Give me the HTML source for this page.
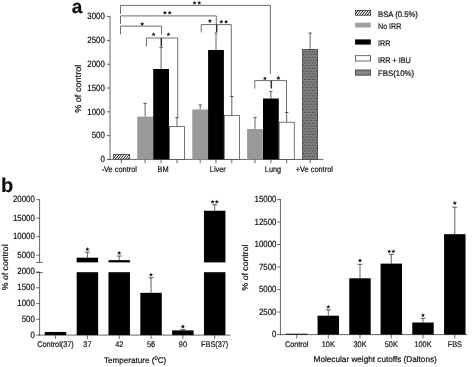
<!DOCTYPE html>
<html><head><meta charset="utf-8"><title>Figure</title>
<style>
html,body{margin:0;padding:0;background:#fff;}
body{width:472px;height:367px;overflow:hidden;}
svg{display:block;font-family:"Liberation Sans",sans-serif;fill:#111;}
text{stroke:#111;stroke-width:0.2px;text-rendering:geometricPrecision;}
</style></head><body>
<svg width="472" height="367" viewBox="0 0 472 367">
<defs>
<pattern id="hatch" width="4" height="2.0" patternUnits="userSpaceOnUse" patternTransform="rotate(-50)">
<rect width="4" height="2.0" fill="#fff"/><rect width="4" height="0.95" fill="#1a1a1a"/>
</pattern>
<pattern id="dots" x="302.9" y="50.6" width="2.66" height="5.5" patternUnits="userSpaceOnUse">
<rect x="0.9" y="0.6" width="1.2" height="1.3" fill="#3c3c3c"/><rect x="-0.43" y="3.35" width="1.2" height="1.3" fill="#3c3c3c"/><rect x="2.23" y="3.35" width="1.2" height="1.3" fill="#3c3c3c"/>
</pattern>
<pattern id="dots2" x="355.5" y="69.6" width="2.66" height="6" patternUnits="userSpaceOnUse">
<rect x="0.7" y="2.4" width="1.3" height="1.2" fill="#b0b0b0"/>
</pattern>
<filter id="soft" x="-2%" y="-2%" width="104%" height="104%"><feGaussianBlur stdDeviation="0.35"/></filter>
</defs>
<rect width="472" height="367" fill="#fff"/>
<g filter="url(#soft)">
<text transform="translate(71.8,12.90) scale(1.0000,1)" font-size="19.00" text-anchor="start" font-weight="bold" >a</text>
<line x1="110.0" y1="16.0" x2="110.0" y2="159.95" stroke="#2e2e2e" stroke-width="0.72"/>
<line x1="109.5" y1="159.45" x2="323.4" y2="159.45" stroke="#2e2e2e" stroke-width="0.72"/>
<line x1="106.8" y1="159.45" x2="110.0" y2="159.45" stroke="#2e2e2e" stroke-width="0.72"/>
<text transform="translate(104.8,162.10) scale(0.8621,1)" font-size="9.11" text-anchor="end" font-weight="normal" >0</text>
<line x1="106.8" y1="135.64999999999998" x2="110.0" y2="135.64999999999998" stroke="#2e2e2e" stroke-width="0.72"/>
<text transform="translate(104.8,138.30) scale(0.8621,1)" font-size="9.11" text-anchor="end" font-weight="normal" >500</text>
<line x1="106.8" y1="111.85" x2="110.0" y2="111.85" stroke="#2e2e2e" stroke-width="0.72"/>
<text transform="translate(104.8,114.50) scale(0.8621,1)" font-size="9.11" text-anchor="end" font-weight="normal" >1000</text>
<line x1="106.8" y1="88.04999999999998" x2="110.0" y2="88.04999999999998" stroke="#2e2e2e" stroke-width="0.72"/>
<text transform="translate(104.8,90.70) scale(0.8621,1)" font-size="9.11" text-anchor="end" font-weight="normal" >1500</text>
<line x1="106.8" y1="64.24999999999999" x2="110.0" y2="64.24999999999999" stroke="#2e2e2e" stroke-width="0.72"/>
<text transform="translate(104.8,66.90) scale(0.8621,1)" font-size="9.11" text-anchor="end" font-weight="normal" >2000</text>
<line x1="106.8" y1="40.449999999999974" x2="110.0" y2="40.449999999999974" stroke="#2e2e2e" stroke-width="0.72"/>
<text transform="translate(104.8,43.10) scale(0.8621,1)" font-size="9.11" text-anchor="end" font-weight="normal" >2500</text>
<line x1="106.8" y1="16.649999999999977" x2="110.0" y2="16.649999999999977" stroke="#2e2e2e" stroke-width="0.72"/>
<text transform="translate(104.8,19.30) scale(0.8621,1)" font-size="9.11" text-anchor="end" font-weight="normal" >3000</text>
<text transform="translate(81.0,88.8) rotate(-90) scale(1.06,1)" font-size="8.6" text-anchor="middle">% of control</text>
<clipPath id="hc1"><rect x="113.40" y="154.30" width="16.30" height="5.15"/></clipPath>
<rect x="113.40" y="154.30" width="16.30" height="5.15" fill="#fff"/>
<g clip-path="url(#hc1)" stroke="#1a1a1a" stroke-width="1.0"><line x1="104.27" y1="160.45" x2="109.85" y2="153.30"/><line x1="106.81" y1="160.45" x2="112.39" y2="153.30"/><line x1="109.35" y1="160.45" x2="114.93" y2="153.30"/><line x1="111.89" y1="160.45" x2="117.47" y2="153.30"/><line x1="114.43" y1="160.45" x2="120.01" y2="153.30"/><line x1="116.97" y1="160.45" x2="122.55" y2="153.30"/><line x1="119.51" y1="160.45" x2="125.09" y2="153.30"/><line x1="122.05" y1="160.45" x2="127.63" y2="153.30"/><line x1="124.59" y1="160.45" x2="130.17" y2="153.30"/><line x1="127.13" y1="160.45" x2="132.71" y2="153.30"/><line x1="129.67" y1="160.45" x2="135.25" y2="153.30"/></g>
<rect x="113.73" y="154.62" width="15.65" height="4.50" fill="none" stroke="#222" stroke-width="0.65"/>
<line x1="121.3" y1="159.45" x2="121.3" y2="163.25" stroke="#2e2e2e" stroke-width="0.72"/>
<line x1="145.1" y1="103.4" x2="145.1" y2="116.60999999999999" stroke="#2e2e2e" stroke-width="0.75"/>
<line x1="143.4" y1="103.4" x2="146.79999999999998" y2="103.4" stroke="#2e2e2e" stroke-width="0.75"/>
<rect x="137.20" y="116.61" width="15.80" height="42.84" fill="#999999"/>
<line x1="145.1" y1="159.45" x2="145.1" y2="163.25" stroke="#2e2e2e" stroke-width="0.72"/>
<line x1="161.1" y1="47.3" x2="161.1" y2="69.00999999999998" stroke="#2e2e2e" stroke-width="0.75"/>
<line x1="159.4" y1="47.3" x2="162.79999999999998" y2="47.3" stroke="#2e2e2e" stroke-width="0.75"/>
<rect x="153.20" y="69.01" width="15.80" height="90.44" fill="#000"/>
<line x1="161.1" y1="159.45" x2="161.1" y2="163.25" stroke="#2e2e2e" stroke-width="0.72"/>
<line x1="177.0" y1="117.6" x2="177.0" y2="126.13" stroke="#2e2e2e" stroke-width="0.75"/>
<line x1="175.3" y1="117.6" x2="178.7" y2="117.6" stroke="#2e2e2e" stroke-width="0.75"/>
<rect x="169.45" y="126.48" width="15.10" height="32.97" fill="#fff" stroke="#3a3a3a" stroke-width="0.7"/>
<line x1="177.0" y1="159.45" x2="177.0" y2="163.25" stroke="#2e2e2e" stroke-width="0.72"/>
<line x1="200.2" y1="104.9" x2="200.2" y2="109.46999999999998" stroke="#2e2e2e" stroke-width="0.75"/>
<line x1="198.5" y1="104.9" x2="201.89999999999998" y2="104.9" stroke="#2e2e2e" stroke-width="0.75"/>
<rect x="192.30" y="109.47" width="15.80" height="49.98" fill="#999999"/>
<line x1="200.2" y1="159.45" x2="200.2" y2="163.25" stroke="#2e2e2e" stroke-width="0.72"/>
<line x1="216.0" y1="33.0" x2="216.0" y2="49.969999999999985" stroke="#2e2e2e" stroke-width="0.75"/>
<line x1="214.3" y1="33.0" x2="217.7" y2="33.0" stroke="#2e2e2e" stroke-width="0.75"/>
<rect x="208.10" y="49.97" width="15.80" height="109.48" fill="#000"/>
<line x1="216.0" y1="159.45" x2="216.0" y2="163.25" stroke="#2e2e2e" stroke-width="0.72"/>
<line x1="231.8" y1="96.5" x2="231.8" y2="115.18199999999999" stroke="#2e2e2e" stroke-width="0.75"/>
<line x1="230.10000000000002" y1="96.5" x2="233.5" y2="96.5" stroke="#2e2e2e" stroke-width="0.75"/>
<rect x="224.25" y="115.53" width="15.10" height="43.92" fill="#fff" stroke="#3a3a3a" stroke-width="0.7"/>
<line x1="231.8" y1="159.45" x2="231.8" y2="163.25" stroke="#2e2e2e" stroke-width="0.72"/>
<line x1="255.0" y1="117.4" x2="255.0" y2="128.986" stroke="#2e2e2e" stroke-width="0.75"/>
<line x1="253.3" y1="117.4" x2="256.7" y2="117.4" stroke="#2e2e2e" stroke-width="0.75"/>
<rect x="247.10" y="128.99" width="15.80" height="30.46" fill="#999999"/>
<line x1="255.0" y1="159.45" x2="255.0" y2="163.25" stroke="#2e2e2e" stroke-width="0.72"/>
<line x1="270.9" y1="91.4" x2="270.9" y2="98.52199999999999" stroke="#2e2e2e" stroke-width="0.75"/>
<line x1="269.2" y1="91.4" x2="272.59999999999997" y2="91.4" stroke="#2e2e2e" stroke-width="0.75"/>
<rect x="263.00" y="98.52" width="15.80" height="60.93" fill="#000"/>
<line x1="270.9" y1="159.45" x2="270.9" y2="163.25" stroke="#2e2e2e" stroke-width="0.72"/>
<line x1="286.7" y1="112.5" x2="286.7" y2="121.84599999999999" stroke="#2e2e2e" stroke-width="0.75"/>
<line x1="285.0" y1="112.5" x2="288.4" y2="112.5" stroke="#2e2e2e" stroke-width="0.75"/>
<rect x="279.15" y="122.20" width="15.10" height="37.25" fill="#fff" stroke="#3a3a3a" stroke-width="0.7"/>
<line x1="286.7" y1="159.45" x2="286.7" y2="163.25" stroke="#2e2e2e" stroke-width="0.72"/>
<line x1="310.1" y1="33.0" x2="310.1" y2="49.01799999999999" stroke="#2e2e2e" stroke-width="0.75"/>
<line x1="308.40000000000003" y1="33.0" x2="311.8" y2="33.0" stroke="#2e2e2e" stroke-width="0.75"/>
<rect x="302.20" y="49.02" width="15.80" height="110.43" fill="#848484"/>
<rect x="302.60" y="49.42" width="15.00" height="110.03" fill="url(#dots)" stroke="#4a4a4a" stroke-width="0.8"/>
<line x1="310.1" y1="159.45" x2="310.1" y2="163.25" stroke="#2e2e2e" stroke-width="0.72"/>
<text transform="translate(119.3,171.97) scale(0.9091,1)" font-size="8.14" text-anchor="middle" font-weight="normal" >-Ve control</text>
<text transform="translate(163,171.97) scale(0.9091,1)" font-size="8.14" text-anchor="middle" font-weight="normal" >BM</text>
<text transform="translate(217.8,171.97) scale(0.9091,1)" font-size="8.14" text-anchor="middle" font-weight="normal" >Liver</text>
<text transform="translate(273,171.97) scale(0.9091,1)" font-size="8.14" text-anchor="middle" font-weight="normal" >Lung</text>
<text transform="translate(314.3,171.97) scale(0.9091,1)" font-size="8.14" text-anchor="middle" font-weight="normal" >+Ve control</text>
<polyline fill="none" stroke="#4a4a4a" stroke-width="0.8" points="120.5,14.0 120.5,5.4 270.4,5.4 270.4,74.2"/>
<polyline fill="none" stroke="#4a4a4a" stroke-width="0.8" points="120.5,24.0 120.5,15.9 216.3,15.9 216.3,24.3"/>
<polyline fill="none" stroke="#4a4a4a" stroke-width="0.8" points="120.5,34.3 120.5,26.1 161.5,26.1 161.5,34.6"/>
<polyline fill="none" stroke="#4a4a4a" stroke-width="0.8" points="146.4,46.5 146.4,38.0 177.7,38.0 177.7,117.6"/>
<polyline fill="none" stroke="#4a4a4a" stroke-width="0.8" points="201.2,32.4 201.2,24.6 231.3,24.6 231.3,96.5"/>
<polyline fill="none" stroke="#4a4a4a" stroke-width="0.8" points="254.8,88.5 254.8,80.6 286.5,80.6 286.5,112.5"/>
<line x1="161.3" y1="38.0" x2="161.3" y2="46.6" stroke="#333" stroke-width="1.5"/>
<line x1="216.7" y1="24.6" x2="216.7" y2="32.0" stroke="#333" stroke-width="1.5"/>
<line x1="271.3" y1="80.6" x2="271.3" y2="88.4" stroke="#333" stroke-width="1.5"/>
<polygon fill="#111" points="194.50,0.75 195.06,2.24 196.64,2.30 195.40,3.29 195.82,4.82 194.50,3.94 193.18,4.82 193.60,3.29 192.36,2.30 193.94,2.24"/>
<polygon fill="#111" points="199.30,0.75 199.86,2.24 201.44,2.30 200.20,3.29 200.62,4.82 199.30,3.94 197.98,4.82 198.40,3.29 197.16,2.30 198.74,2.24"/>
<polygon fill="#111" points="164.90,10.55 165.46,12.04 167.04,12.10 165.80,13.09 166.22,14.62 164.90,13.74 163.58,14.62 164.00,13.09 162.76,12.10 164.34,12.04"/>
<polygon fill="#111" points="169.70,10.55 170.26,12.04 171.84,12.10 170.60,13.09 171.02,14.62 169.70,13.74 168.38,14.62 168.80,13.09 167.56,12.10 169.14,12.04"/>
<polygon fill="#111" points="142.20,21.75 142.76,23.24 144.34,23.30 143.10,24.29 143.52,25.82 142.20,24.95 140.88,25.82 141.30,24.29 140.06,23.30 141.64,23.24"/>
<polygon fill="#111" points="153.60,32.15 154.16,33.64 155.74,33.70 154.50,34.69 154.92,36.22 153.60,35.35 152.28,36.22 152.70,34.69 151.46,33.70 153.04,33.64"/>
<polygon fill="#111" points="168.40,32.15 168.96,33.64 170.54,33.70 169.30,34.69 169.72,36.22 168.40,35.35 167.08,36.22 167.50,34.69 166.26,33.70 167.84,33.64"/>
<polygon fill="#111" points="209.90,18.85 210.46,20.34 212.04,20.40 210.80,21.39 211.22,22.92 209.90,22.04 208.58,22.92 209.00,21.39 207.76,20.40 209.34,20.34"/>
<polygon fill="#111" points="221.30,19.55 221.86,21.04 223.44,21.10 222.20,22.09 222.62,23.62 221.30,22.75 219.98,23.62 220.40,22.09 219.16,21.10 220.74,21.04"/>
<polygon fill="#111" points="226.10,19.55 226.66,21.04 228.24,21.10 227.00,22.09 227.42,23.62 226.10,22.75 224.78,23.62 225.20,22.09 223.96,21.10 225.54,21.04"/>
<polygon fill="#111" points="264.90,76.15 265.46,77.64 267.04,77.70 265.80,78.69 266.22,80.22 264.90,79.34 263.58,80.22 264.00,78.69 262.76,77.70 264.34,77.64"/>
<polygon fill="#111" points="278.40,75.85 278.96,77.34 280.54,77.40 279.30,78.39 279.72,79.92 278.40,79.05 277.08,79.92 277.50,78.39 276.26,77.40 277.84,77.34"/>
<clipPath id="hc2"><rect x="355.10" y="10.30" width="15.90" height="5.20"/></clipPath>
<rect x="355.10" y="10.30" width="15.90" height="5.20" fill="#fff"/>
<g clip-path="url(#hc2)" stroke="#1a1a1a" stroke-width="1.0"><line x1="348.34" y1="16.50" x2="353.96" y2="9.30"/><line x1="350.88" y1="16.50" x2="356.50" y2="9.30"/><line x1="353.42" y1="16.50" x2="359.04" y2="9.30"/><line x1="355.96" y1="16.50" x2="361.58" y2="9.30"/><line x1="358.50" y1="16.50" x2="364.12" y2="9.30"/><line x1="361.04" y1="16.50" x2="366.66" y2="9.30"/><line x1="363.58" y1="16.50" x2="369.20" y2="9.30"/><line x1="366.12" y1="16.50" x2="371.74" y2="9.30"/><line x1="368.66" y1="16.50" x2="374.28" y2="9.30"/><line x1="371.20" y1="16.50" x2="376.82" y2="9.30"/></g>
<rect x="355.43" y="10.62" width="15.25" height="4.55" fill="none" stroke="#222" stroke-width="0.65"/>
<rect x="355.10" y="22.70" width="15.70" height="4.80" fill="#a0a0a0"/>
<rect x="355.10" y="39.40" width="15.70" height="5.20" fill="#000"/>
<rect x="355.50" y="55.70" width="15.10" height="5.30" fill="#fff" stroke="#444" stroke-width="0.8"/>
<rect x="355.10" y="69.70" width="15.90" height="5.80" fill="#7c7c7c"/>
<rect x="355.50" y="70.10" width="15.10" height="5.00" fill="url(#dots2)" stroke="#4a4a4a" stroke-width="0.8"/>
<text transform="translate(378,17.23) scale(0.9543,1)" font-size="8.10" text-anchor="start" font-weight="normal" >BSA (0.5%)</text>
<text transform="translate(378,28.84) scale(0.8827,1)" font-size="8.10" text-anchor="start" font-weight="normal" >No IRR</text>
<text transform="translate(378,45.62) scale(0.8889,1)" font-size="8.10" text-anchor="start" font-weight="normal" >IRR</text>
<text transform="translate(378,63.01) scale(0.8926,1)" font-size="8.10" text-anchor="start" font-weight="normal" >IRR + IBU</text>
<text transform="translate(378,76.09) scale(0.9691,1)" font-size="8.10" text-anchor="start" font-weight="normal" >FBS(10%)</text>
<text transform="translate(0.9,192.40) scale(1.0000,1)" font-size="20.00" text-anchor="start" font-weight="bold" >b</text>
<line x1="39.55" y1="271.7" x2="39.55" y2="335.6" stroke="#2e2e2e" stroke-width="0.72"/>
<line x1="39.05" y1="335.1" x2="230.6" y2="335.1" stroke="#2e2e2e" stroke-width="0.72"/>
<line x1="36.349999999999994" y1="335.1" x2="39.55" y2="335.1" stroke="#2e2e2e" stroke-width="0.72"/>
<text transform="translate(34.8,337.55) scale(0.8621,1)" font-size="9.11" text-anchor="end" font-weight="normal" >0</text>
<line x1="36.349999999999994" y1="319.33000000000004" x2="39.55" y2="319.33000000000004" stroke="#2e2e2e" stroke-width="0.72"/>
<text transform="translate(34.8,321.78) scale(0.8621,1)" font-size="9.11" text-anchor="end" font-weight="normal" >500</text>
<line x1="36.349999999999994" y1="303.56" x2="39.55" y2="303.56" stroke="#2e2e2e" stroke-width="0.72"/>
<text transform="translate(34.8,306.01) scale(0.8621,1)" font-size="9.11" text-anchor="end" font-weight="normal" >1000</text>
<line x1="36.349999999999994" y1="287.79" x2="39.55" y2="287.79" stroke="#2e2e2e" stroke-width="0.72"/>
<text transform="translate(34.8,290.24) scale(0.8621,1)" font-size="9.11" text-anchor="end" font-weight="normal" >1500</text>
<line x1="36.349999999999994" y1="272.02000000000004" x2="39.55" y2="272.02000000000004" stroke="#2e2e2e" stroke-width="0.72"/>
<text transform="translate(34.8,274.47) scale(0.8621,1)" font-size="9.11" text-anchor="end" font-weight="normal" >2000</text>
<line x1="39.55" y1="199.1" x2="39.55" y2="262.79999999999995" stroke="#2e2e2e" stroke-width="0.72"/>
<line x1="36.15" y1="262.4" x2="42.75" y2="262.4" stroke="#2e2e2e" stroke-width="0.72"/>
<line x1="36.15" y1="272.5" x2="42.75" y2="272.5" stroke="#2e2e2e" stroke-width="0.72"/>
<line x1="36.349999999999994" y1="255.15" x2="39.55" y2="255.15" stroke="#2e2e2e" stroke-width="0.72"/>
<text transform="translate(34.8,257.60) scale(0.8621,1)" font-size="9.11" text-anchor="end" font-weight="normal" >5000</text>
<line x1="36.349999999999994" y1="236.65" x2="39.55" y2="236.65" stroke="#2e2e2e" stroke-width="0.72"/>
<text transform="translate(34.8,239.10) scale(0.8621,1)" font-size="9.11" text-anchor="end" font-weight="normal" >10000</text>
<line x1="36.349999999999994" y1="218.15" x2="39.55" y2="218.15" stroke="#2e2e2e" stroke-width="0.72"/>
<text transform="translate(34.8,220.60) scale(0.8621,1)" font-size="9.11" text-anchor="end" font-weight="normal" >15000</text>
<line x1="36.349999999999994" y1="199.65" x2="39.55" y2="199.65" stroke="#2e2e2e" stroke-width="0.72"/>
<text transform="translate(34.8,202.10) scale(0.8621,1)" font-size="9.11" text-anchor="end" font-weight="normal" >20000</text>
<text transform="translate(7.5,267.3) rotate(-90) scale(1.02,1)" font-size="8.5" text-anchor="middle">% of control</text>
<rect x="44.77" y="331.95" width="21.45" height="3.15" fill="#000"/>
<line x1="55.5" y1="335.1" x2="55.5" y2="338.90000000000003" stroke="#2e2e2e" stroke-width="0.72"/>
<text transform="translate(55.5,346.82) scale(0.8929,1)" font-size="8.18" text-anchor="middle" font-weight="normal" >Control(37)</text>
<line x1="87.4" y1="252.2" x2="87.4" y2="257.666" stroke="#2e2e2e" stroke-width="0.75"/>
<line x1="84.9" y1="252.2" x2="89.9" y2="252.2" stroke="#2e2e2e" stroke-width="0.75"/>
<rect x="76.68" y="272.20" width="21.45" height="62.90" fill="#000"/>
<rect x="76.68" y="257.67" width="21.45" height="4.73" fill="#000"/>
<polygon fill="#111" points="87.40,246.95 87.96,248.44 89.54,248.50 88.30,249.49 88.72,251.02 87.40,250.14 86.08,251.02 86.50,249.49 85.26,248.50 86.84,248.44"/>
<line x1="87.4" y1="335.1" x2="87.4" y2="338.90000000000003" stroke="#2e2e2e" stroke-width="0.72"/>
<text transform="translate(87.4,346.82) scale(0.8929,1)" font-size="8.18" text-anchor="middle" font-weight="normal" >37</text>
<line x1="119.2" y1="256.0" x2="119.2" y2="260.145" stroke="#2e2e2e" stroke-width="0.75"/>
<line x1="116.7" y1="256.0" x2="121.7" y2="256.0" stroke="#2e2e2e" stroke-width="0.75"/>
<rect x="108.48" y="272.20" width="21.45" height="62.90" fill="#000"/>
<rect x="108.48" y="260.14" width="21.45" height="2.25" fill="#000"/>
<polygon fill="#111" points="119.20,250.75 119.76,252.24 121.34,252.30 120.10,253.29 120.52,254.82 119.20,253.94 117.88,254.82 118.30,253.29 117.06,252.30 118.64,252.24"/>
<line x1="119.2" y1="335.1" x2="119.2" y2="338.90000000000003" stroke="#2e2e2e" stroke-width="0.72"/>
<text transform="translate(119.2,346.82) scale(0.8929,1)" font-size="8.18" text-anchor="middle" font-weight="normal" >42</text>
<line x1="151.05" y1="277.8" x2="151.05" y2="292.8364" stroke="#2e2e2e" stroke-width="0.75"/>
<line x1="148.55" y1="277.8" x2="153.55" y2="277.8" stroke="#2e2e2e" stroke-width="0.75"/>
<rect x="140.33" y="292.84" width="21.45" height="42.26" fill="#000"/>
<polygon fill="#111" points="151.05,272.55 151.61,274.04 153.19,274.10 151.95,275.09 152.37,276.62 151.05,275.75 149.73,276.62 150.15,275.09 148.91,274.10 150.49,274.04"/>
<line x1="151.05" y1="335.1" x2="151.05" y2="338.90000000000003" stroke="#2e2e2e" stroke-width="0.72"/>
<text transform="translate(151.05,346.82) scale(0.8929,1)" font-size="8.18" text-anchor="middle" font-weight="normal" >56</text>
<line x1="182.9" y1="329.6" x2="182.9" y2="330.369" stroke="#2e2e2e" stroke-width="0.75"/>
<line x1="180.4" y1="329.6" x2="185.4" y2="329.6" stroke="#2e2e2e" stroke-width="0.75"/>
<rect x="172.18" y="330.37" width="21.45" height="4.73" fill="#000"/>
<polygon fill="#111" points="182.90,324.35 183.46,325.84 185.04,325.90 183.80,326.89 184.22,328.42 182.90,327.55 181.58,328.42 182.00,326.89 180.76,325.90 182.34,325.84"/>
<line x1="182.9" y1="335.1" x2="182.9" y2="338.90000000000003" stroke="#2e2e2e" stroke-width="0.72"/>
<text transform="translate(182.9,346.82) scale(0.8929,1)" font-size="8.18" text-anchor="middle" font-weight="normal" >90</text>
<line x1="214.7" y1="204.7" x2="214.7" y2="210.75" stroke="#2e2e2e" stroke-width="0.75"/>
<line x1="212.2" y1="204.7" x2="217.2" y2="204.7" stroke="#2e2e2e" stroke-width="0.75"/>
<rect x="203.97" y="272.20" width="21.45" height="62.90" fill="#000"/>
<rect x="203.97" y="210.75" width="21.45" height="51.65" fill="#000"/>
<polygon fill="#111" points="212.60,199.45 213.16,200.94 214.74,201.00 213.50,201.99 213.92,203.52 212.60,202.64 211.28,203.52 211.70,201.99 210.46,201.00 212.04,200.94"/>
<polygon fill="#111" points="216.80,199.45 217.36,200.94 218.94,201.00 217.70,201.99 218.12,203.52 216.80,202.64 215.48,203.52 215.90,201.99 214.66,201.00 216.24,200.94"/>
<line x1="214.7" y1="335.1" x2="214.7" y2="338.90000000000003" stroke="#2e2e2e" stroke-width="0.72"/>
<text transform="translate(214.7,346.82) scale(0.8929,1)" font-size="8.18" text-anchor="middle" font-weight="normal" >FBS(37)</text>
<text transform="translate(135.1,363.3) scale(1.0000,1)" font-size="8.10" text-anchor="middle">Temperature (<tspan font-size="5.8" dy="-3.0">0</tspan><tspan dy="3.0">C)</tspan></text>
<line x1="280.45" y1="199.0" x2="280.45" y2="335.1" stroke="#2e2e2e" stroke-width="0.72"/>
<line x1="279.95" y1="334.6" x2="467.2" y2="334.6" stroke="#2e2e2e" stroke-width="0.72"/>
<line x1="277.25" y1="334.6" x2="280.45" y2="334.6" stroke="#2e2e2e" stroke-width="0.72"/>
<text transform="translate(276.4,337.25) scale(0.8621,1)" font-size="9.11" text-anchor="end" font-weight="normal" >0</text>
<line x1="277.25" y1="312.08000000000004" x2="280.45" y2="312.08000000000004" stroke="#2e2e2e" stroke-width="0.72"/>
<text transform="translate(276.4,314.73) scale(0.8621,1)" font-size="9.11" text-anchor="end" font-weight="normal" >2500</text>
<line x1="277.25" y1="289.56" x2="280.45" y2="289.56" stroke="#2e2e2e" stroke-width="0.72"/>
<text transform="translate(276.4,292.21) scale(0.8621,1)" font-size="9.11" text-anchor="end" font-weight="normal" >5000</text>
<line x1="277.25" y1="267.04" x2="280.45" y2="267.04" stroke="#2e2e2e" stroke-width="0.72"/>
<text transform="translate(276.4,269.69) scale(0.8621,1)" font-size="9.11" text-anchor="end" font-weight="normal" >7500</text>
<line x1="277.25" y1="244.52000000000004" x2="280.45" y2="244.52000000000004" stroke="#2e2e2e" stroke-width="0.72"/>
<text transform="translate(276.4,247.17) scale(0.8621,1)" font-size="9.11" text-anchor="end" font-weight="normal" >10000</text>
<line x1="277.25" y1="222.0" x2="280.45" y2="222.0" stroke="#2e2e2e" stroke-width="0.72"/>
<text transform="translate(276.4,224.65) scale(0.8621,1)" font-size="9.11" text-anchor="end" font-weight="normal" >12500</text>
<line x1="277.25" y1="199.48000000000002" x2="280.45" y2="199.48000000000002" stroke="#2e2e2e" stroke-width="0.72"/>
<text transform="translate(276.4,202.13) scale(0.8621,1)" font-size="9.11" text-anchor="end" font-weight="normal" >15000</text>
<text transform="translate(248.3,267.5) rotate(-90) scale(1.02,1)" font-size="8.5" text-anchor="middle">% of control</text>
<rect x="285.97" y="333.70" width="21.45" height="0.90" fill="#000"/>
<line x1="296.7" y1="334.6" x2="296.7" y2="338.40000000000003" stroke="#2e2e2e" stroke-width="0.72"/>
<text transform="translate(296.7,346.82) scale(0.8929,1)" font-size="8.18" text-anchor="middle" font-weight="normal" >Control</text>
<line x1="328.3" y1="309.9" x2="328.3" y2="315.6832" stroke="#2e2e2e" stroke-width="0.75"/>
<line x1="325.8" y1="309.9" x2="330.8" y2="309.9" stroke="#2e2e2e" stroke-width="0.75"/>
<rect x="317.57" y="315.68" width="21.45" height="18.92" fill="#000"/>
<polygon fill="#111" points="328.30,304.65 328.86,306.14 330.44,306.20 329.20,307.19 329.62,308.72 328.30,307.84 326.98,308.72 327.40,307.19 326.16,306.20 327.74,306.14"/>
<line x1="328.3" y1="334.6" x2="328.3" y2="338.40000000000003" stroke="#2e2e2e" stroke-width="0.72"/>
<text transform="translate(328.3,346.82) scale(0.8929,1)" font-size="8.18" text-anchor="middle" font-weight="normal" >10K</text>
<line x1="360.0" y1="264.3" x2="360.0" y2="278.3" stroke="#2e2e2e" stroke-width="0.75"/>
<line x1="357.5" y1="264.3" x2="362.5" y2="264.3" stroke="#2e2e2e" stroke-width="0.75"/>
<rect x="349.27" y="278.30" width="21.45" height="56.30" fill="#000"/>
<polygon fill="#111" points="360.00,258.35 360.56,259.84 362.14,259.90 360.90,260.89 361.32,262.42 360.00,261.55 358.68,262.42 359.10,260.89 357.86,259.90 359.44,259.84"/>
<line x1="360.0" y1="334.6" x2="360.0" y2="338.40000000000003" stroke="#2e2e2e" stroke-width="0.72"/>
<text transform="translate(360.0,346.82) scale(0.8929,1)" font-size="8.18" text-anchor="middle" font-weight="normal" >30K</text>
<line x1="391.3" y1="254.4" x2="391.3" y2="263.61696" stroke="#2e2e2e" stroke-width="0.75"/>
<line x1="388.8" y1="254.4" x2="393.8" y2="254.4" stroke="#2e2e2e" stroke-width="0.75"/>
<rect x="380.57" y="263.62" width="21.45" height="70.98" fill="#000"/>
<polygon fill="#111" points="389.20,249.15 389.76,250.64 391.34,250.70 390.10,251.69 390.52,253.22 389.20,252.34 387.88,253.22 388.30,251.69 387.06,250.70 388.64,250.64"/>
<polygon fill="#111" points="393.40,249.15 393.96,250.64 395.54,250.70 394.30,251.69 394.72,253.22 393.40,252.34 392.08,253.22 392.50,251.69 391.26,250.70 392.84,250.64"/>
<line x1="391.3" y1="334.6" x2="391.3" y2="338.40000000000003" stroke="#2e2e2e" stroke-width="0.72"/>
<text transform="translate(391.3,346.82) scale(0.8929,1)" font-size="8.18" text-anchor="middle" font-weight="normal" >50K</text>
<line x1="423.0" y1="318.3" x2="423.0" y2="322.52928" stroke="#2e2e2e" stroke-width="0.75"/>
<line x1="420.5" y1="318.3" x2="425.5" y2="318.3" stroke="#2e2e2e" stroke-width="0.75"/>
<rect x="412.27" y="322.53" width="21.45" height="12.07" fill="#000"/>
<polygon fill="#111" points="423.00,313.05 423.56,314.54 425.14,314.60 423.90,315.59 424.32,317.12 423.00,316.25 421.68,317.12 422.10,315.59 420.86,314.60 422.44,314.54"/>
<line x1="423.0" y1="334.6" x2="423.0" y2="338.40000000000003" stroke="#2e2e2e" stroke-width="0.72"/>
<text transform="translate(423.0,346.82) scale(0.8929,1)" font-size="8.18" text-anchor="middle" font-weight="normal" >100K</text>
<line x1="454.8" y1="207.1" x2="454.8" y2="234.16080000000002" stroke="#2e2e2e" stroke-width="0.75"/>
<line x1="452.3" y1="207.1" x2="457.3" y2="207.1" stroke="#2e2e2e" stroke-width="0.75"/>
<rect x="444.07" y="234.16" width="21.45" height="100.44" fill="#000"/>
<polygon fill="#111" points="454.80,200.85 455.36,202.34 456.94,202.40 455.70,203.39 456.12,204.92 454.80,204.04 453.48,204.92 453.90,203.39 452.66,202.40 454.24,202.34"/>
<line x1="454.8" y1="334.6" x2="454.8" y2="338.40000000000003" stroke="#2e2e2e" stroke-width="0.72"/>
<text transform="translate(454.8,346.82) scale(0.8929,1)" font-size="8.18" text-anchor="middle" font-weight="normal" >FBS</text>
<text transform="translate(375.2,362.30) scale(1.0000,1)" font-size="8.20" text-anchor="middle" font-weight="normal" >Molecular weight cutoffs (Daltons)</text>
</g>
</svg>
</body></html>
